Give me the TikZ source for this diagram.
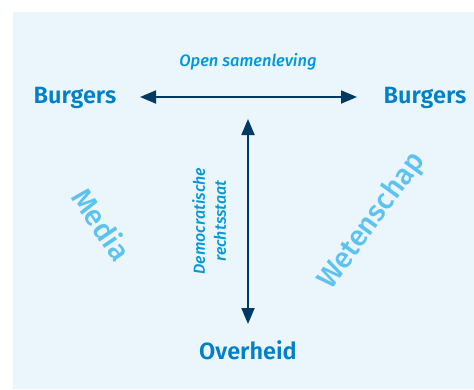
\documentclass[tikz,border=0pt]{standalone}
\usepackage{fontspec}
\setmainfont{Fira Sans}
\newfontfamily\medfont{Fira Sans Medium}
\newfontfamily\semifont{Fira Sans SemiBold}
\usetikzlibrary{arrows.meta}
\definecolor{bgblue}{HTML}{EAF5FC}
\definecolor{mainblue}{HTML}{0080C9}
\definecolor{labblue}{HTML}{0099D8}
\definecolor{skyblue}{HTML}{5CC3F0}
\definecolor{navy}{HTML}{003A63}
\tikzset{
  actor/.style={font=\fontsize{23.5}{26}\selectfont\semifont, text=mainblue, inner sep=0pt},
  relation/.style={font=\fontsize{16.5}{18}\selectfont\medfont\itshape, text=labblue, inner sep=0pt, align=center},
  medium/.style={font=\fontsize{29}{31}\selectfont\medfont, text=skyblue, inner sep=0pt},
  link/.style={draw=navy, line width=1.8pt, {Triangle[length=16pt,width=13pt]}-{Triangle[length=16pt,width=13pt]}},
}
\begin{document}
\begin{tikzpicture}[x=1pt,y=-1pt]
\useasboundingbox (0,0) rectangle (474,389);
\fill[bgblue] (13,12) rectangle (474,389);
\node[actor] (bl) at (75,98) {Burgers};
\node[actor] (br) at (425,98) {Burgers};
\node[actor] (ov) at (248,350) {Overheid};
\node[relation] (os) at (248,62) {Open samenleving};
\node[relation, rotate=90, font=\fontsize{16}{21}\selectfont\medfont\itshape] (dr) at (209,221) {Democratische\\rechtsstaat};
\node[medium, rotate=-56] (me) at (102,224) {Media};
\node[medium, rotate=54] (we) at (372,221) {Wetenschap};
\coordinate (hl) at (140,97);
\coordinate (hr) at (357,97);
\coordinate (vt) at (248,119);
\coordinate (vb) at (248,324);
\draw[link] (hl) -- (hr);
\draw[link] (vt) -- (vb);
\end{tikzpicture}
\end{document}
